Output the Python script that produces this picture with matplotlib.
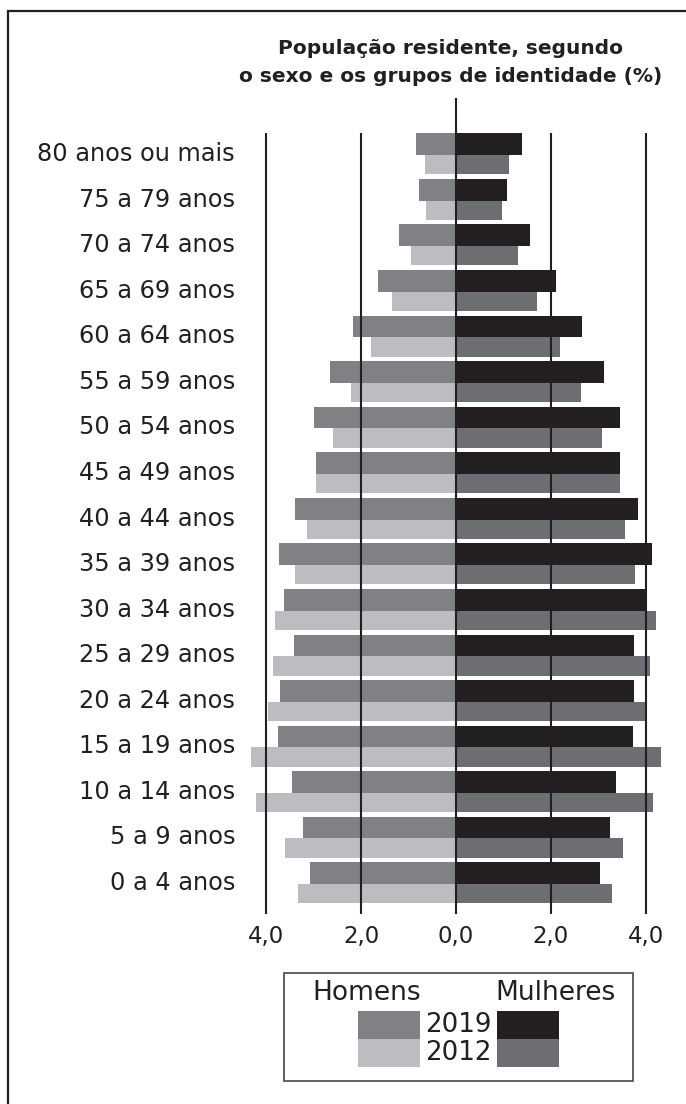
import numpy as np
import matplotlib
matplotlib.use("Agg")
import matplotlib.pyplot as plt
import matplotlib.transforms as mtransforms
from matplotlib.patches import Rectangle

# age groups, bottom to top
groups = ["0 a 4 anos", "5 a 9 anos", "10 a 14 anos", "15 a 19 anos", "20 a 24 anos",
          "25 a 29 anos", "30 a 34 anos", "35 a 39 anos", "40 a 44 anos", "45 a 49 anos",
          "50 a 54 anos", "55 a 59 anos", "60 a 64 anos", "65 a 69 anos", "70 a 74 anos",
          "75 a 79 anos", "80 anos ou mais"]
men_2019 = [3.08, 3.23, 3.46, 3.76, 3.71, 3.42, 3.63, 3.73, 3.39, 2.95, 2.99, 2.65,
            2.17, 1.64, 1.20, 0.78, 0.84]
men_2012 = [3.33, 3.61, 4.22, 4.32, 3.97, 3.86, 3.82, 3.39, 3.14, 2.95, 2.59, 2.21,
            1.79, 1.34, 0.95, 0.63, 0.65]
women_2019 = [3.04, 3.25, 3.38, 3.73, 3.76, 3.76, 4.01, 4.14, 3.83, 3.45, 3.47, 3.13,
              2.65, 2.12, 1.57, 1.08, 1.40]
women_2012 = [3.29, 3.52, 4.15, 4.32, 4.01, 4.09, 4.21, 3.77, 3.57, 3.45, 3.09, 2.64,
              2.19, 1.70, 1.30, 0.96, 1.11]
xticks = [-4, -2, 0, 2, 4]
xtick_labels = ["4,0", "2,0", "0,0", "2,0", "4,0"]

C_M19 = "#808185"
C_M12 = "#bcbdc0"
C_W19 = "#231f20"
C_W12 = "#6d6e71"
C_LINE = "#231f20"

W, H = 686, 1104
fig = plt.figure(figsize=(W / 100, H / 100), dpi=100)

# main axes placed in pixels
L, R, T, B = 242, 670, 98, 914
ax = fig.add_axes([L / W, 1 - B / H, (R - L) / W, (B - T) / H])
ppu_x = 47.4
ppu_y = 45.56
ax.set_xlim((L - 456) / ppu_x, (R - 456) / ppu_x)
ax.set_ylim((884 - B) / ppu_y, (884 - T) / ppu_y)

y = np.arange(len(groups))
h19 = 0.476
h12 = 0.424
# 2012 bars sit just below each group line, 2019 bars just above
ax.barh(y - h12, -np.array(men_2012), height=h12, align="edge", color=C_M12)
ax.barh(y - h12, np.array(women_2012), height=h12, align="edge", color=C_W12)
ax.barh(y, -np.array(men_2019), height=h19, align="edge", color=C_M19)
ax.barh(y, np.array(women_2019), height=h19, align="edge", color=C_W19)

ymin = ax.get_ylim()[0]
ax.vlines([-4, -2, 2, 4], ymin, (884 - 133) / ppu_y, color=C_LINE, lw=1.5, zorder=3)
ax.vlines([0], ymin, ax.get_ylim()[1], color=C_LINE, lw=1.5, zorder=3)

ax.set_yticks(y)
ax.set_yticklabels(groups, fontsize=17.3, color=C_LINE)
ax.set_xticks(xticks)
ax.set_xticklabels(xtick_labels, fontsize=16.5, color=C_LINE)
ax.tick_params(axis="y", length=0, pad=5)
ax.tick_params(axis="x", length=0, pad=8)
for s in ax.spines.values():
    s.set_visible(False)
# nudge the age labels up a little
shift = mtransforms.ScaledTranslation(0, 3.5 / 100, fig.dpi_scale_trans)
for lab in ax.get_yticklabels():
    lab.set_transform(lab.get_transform() + shift)

# overlay for title, border and legend
ov = fig.add_axes([0, 0, 1, 1], zorder=-1)
ov.set_xlim(0, W)
ov.set_ylim(H, 0)
ov.axis("off")
ov.plot([8, 8, W], [H, 11, 11], color=C_LINE, lw=1.6, solid_joinstyle="miter")
ov.text(451, 48, "População residente, segundo", ha="center", va="center",
        fontsize=14.5, fontweight="bold", color=C_LINE)
ov.text(451, 77, "o sexo e os grupos de identidade (%)", ha="center", va="center",
        fontsize=14.5, fontweight="bold", color=C_LINE)

ov.add_patch(Rectangle((284, 973), 349, 108, fill=False, ec="#555558", lw=1.3))
ov.text(367, 993, "Homens", ha="center", va="center", fontsize=19, color=C_LINE)
ov.text(555, 993, "Mulheres", ha="center", va="center", fontsize=19, color=C_LINE)
ov.add_patch(Rectangle((358, 1011), 62, 28, color=C_M19, lw=0))
ov.add_patch(Rectangle((358, 1039), 62, 28, color=C_M12, lw=0))
ov.add_patch(Rectangle((497, 1011), 62, 28, color=C_W19, lw=0))
ov.add_patch(Rectangle((497, 1039), 62, 28, color=C_W12, lw=0))
ov.text(458, 1025, "2019", ha="center", va="center", fontsize=18.8, color=C_LINE)
ov.text(458, 1053, "2012", ha="center", va="center", fontsize=18.8, color=C_LINE)

fig.savefig("out.png", dpi=100)
